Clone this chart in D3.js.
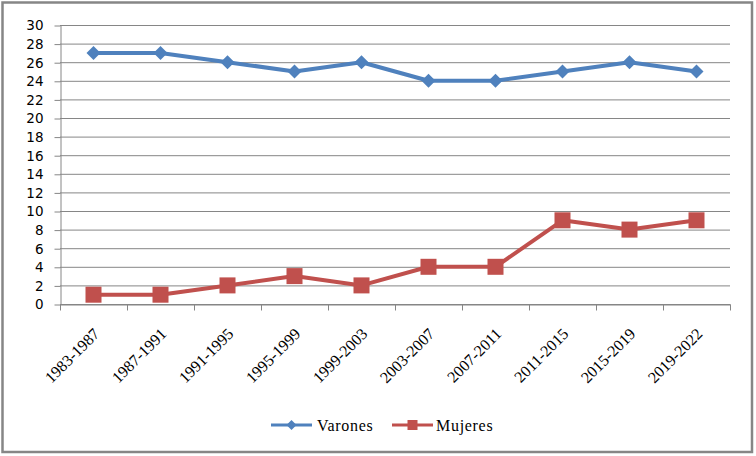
<!DOCTYPE html>
<html><head><meta charset="utf-8">
<script src="https://cdn.jsdelivr.net/npm/d3@7"></script>
<style>body{margin:0;background:#fff}svg{display:block}.serif{font-family:"Liberation Serif","Times New Roman",serif}</style>
</head><body>
<script>
const categories = ["1983-1987","1987-1991","1991-1995","1995-1999","1999-2003","2003-2007","2007-2011","2011-2015","2015-2019","2019-2022"];
const varones = [27,27,26,25,26,24,24,25,26,25];
const mujeres = [1,1,2,3,2,4,4,9,8,9];
const yTicks = d3.range(0, 31, 2);

const W = 756, H = 456;
const svg = d3.select("body").append("svg").attr("width", W).attr("height", H);
svg.append("rect").attr("x",2.5).attr("y",2.5).attr("width",749.5).attr("height",449.5)
  .attr("fill","#fff").attr("stroke","#868686").attr("stroke-width",2.5);

const pL = 60, pR = 730, pT = 25, pB = 304;
const x = d3.scaleBand().domain(categories).range([pL, pR]);
const y = d3.scaleLinear().domain([0, 30]).range([pB, pT]);

// gridlines
svg.append("g").selectAll("line").data(yTicks).join("line")
  .attr("x1", pL).attr("x2", pR)
  .attr("y1", d => y(d)+0.5).attr("y2", d => y(d)+0.5)
  .attr("stroke", "#868686").attr("stroke-width", 1);

// y axis
const yAxis = svg.append("g").attr("transform", `translate(${pL+0.5},0.5)`)
  .call(d3.axisLeft(y).tickValues(yTicks).tickSize(6).tickPadding(11).tickSizeOuter(0));
yAxis.select(".domain").attr("stroke","#868686");
yAxis.selectAll(".tick line").attr("stroke","#868686");
yAxis.selectAll("text").attr("font-family","DejaVu Sans, Verdana, sans-serif").attr("font-size",13.5).attr("fill","#000");

// x axis
const xAxis = svg.append("g").attr("transform", `translate(0.5,${pB+0.5})`)
  .call(d3.axisBottom(x).tickSize(0).tickSizeOuter(0));
xAxis.select(".domain").attr("stroke","#868686");
xAxis.selectAll(".tick line").remove();
xAxis.selectAll(".tick text").remove();
const bounds = categories.map(c => x(c)).concat([pR]);
xAxis.selectAll("line.b").data(bounds).join("line").attr("class","b")
  .attr("x1", d => d).attr("x2", d => d).attr("y1", 0).attr("y2", 6)
  .attr("stroke","#868686");

svg.append("g").selectAll("text").data(categories).join("text")
  .attr("class","serif")
  .attr("transform", d => `translate(${x(d)+x.bandwidth()/2+3},${pB+27}) rotate(-45)`)
  .attr("text-anchor","end").attr("dy","0.35em")
  .attr("font-size",16)
  .attr("fill","#000").text(d => d);

const cx = (d,i) => x(categories[i]) + x.bandwidth()/2;
const line = d3.line().x((d,i) => cx(d,i)).y(d => y(d));

const blue = "#4F81BD", red = "#C0504D";
svg.append("path").datum(varones).attr("d", line).attr("fill","none")
  .attr("stroke", blue).attr("stroke-width", 4).attr("stroke-linejoin","round");
svg.append("path").datum(mujeres).attr("d", line).attr("fill","none")
  .attr("stroke", red).attr("stroke-width", 4).attr("stroke-linejoin","round");

const diamond = s => `M0,${-s}L${s},0L0,${s}L${-s},0Z`;
svg.append("g").selectAll("path").data(varones).join("path")
  .attr("transform", (d,i) => `translate(${cx(d,i)},${y(d)})`)
  .attr("d", diamond(7)).attr("fill", blue);
svg.append("g").selectAll("rect").data(mujeres).join("rect")
  .attr("x", (d,i) => cx(d,i)-8).attr("y", d => y(d)-8)
  .attr("width",16).attr("height",16).attr("fill", red);

// legend
const lg = svg.append("g");
const ly = 425;
lg.append("line").attr("x1",271).attr("x2",312).attr("y1",ly).attr("y2",ly).attr("stroke",blue).attr("stroke-width",3);
lg.append("path").attr("transform",`translate(291.5,${ly})`).attr("d",diamond(5)).attr("fill",blue);
lg.append("text").attr("class","serif").attr("font-size",16).attr("x",317).attr("y",ly).attr("dy","0.35em").attr("letter-spacing",0.7).text("Varones");
lg.append("line").attr("x1",392).attr("x2",433).attr("y1",ly).attr("y2",ly).attr("stroke",red).attr("stroke-width",3);
lg.append("rect").attr("x",412.5-5).attr("y",ly-5).attr("width",10).attr("height",10).attr("fill",red);
lg.append("text").attr("class","serif").attr("font-size",16).attr("x",436).attr("y",ly).attr("dy","0.35em").attr("letter-spacing",0.7).text("Mujeres");
</script>
</body></html>
